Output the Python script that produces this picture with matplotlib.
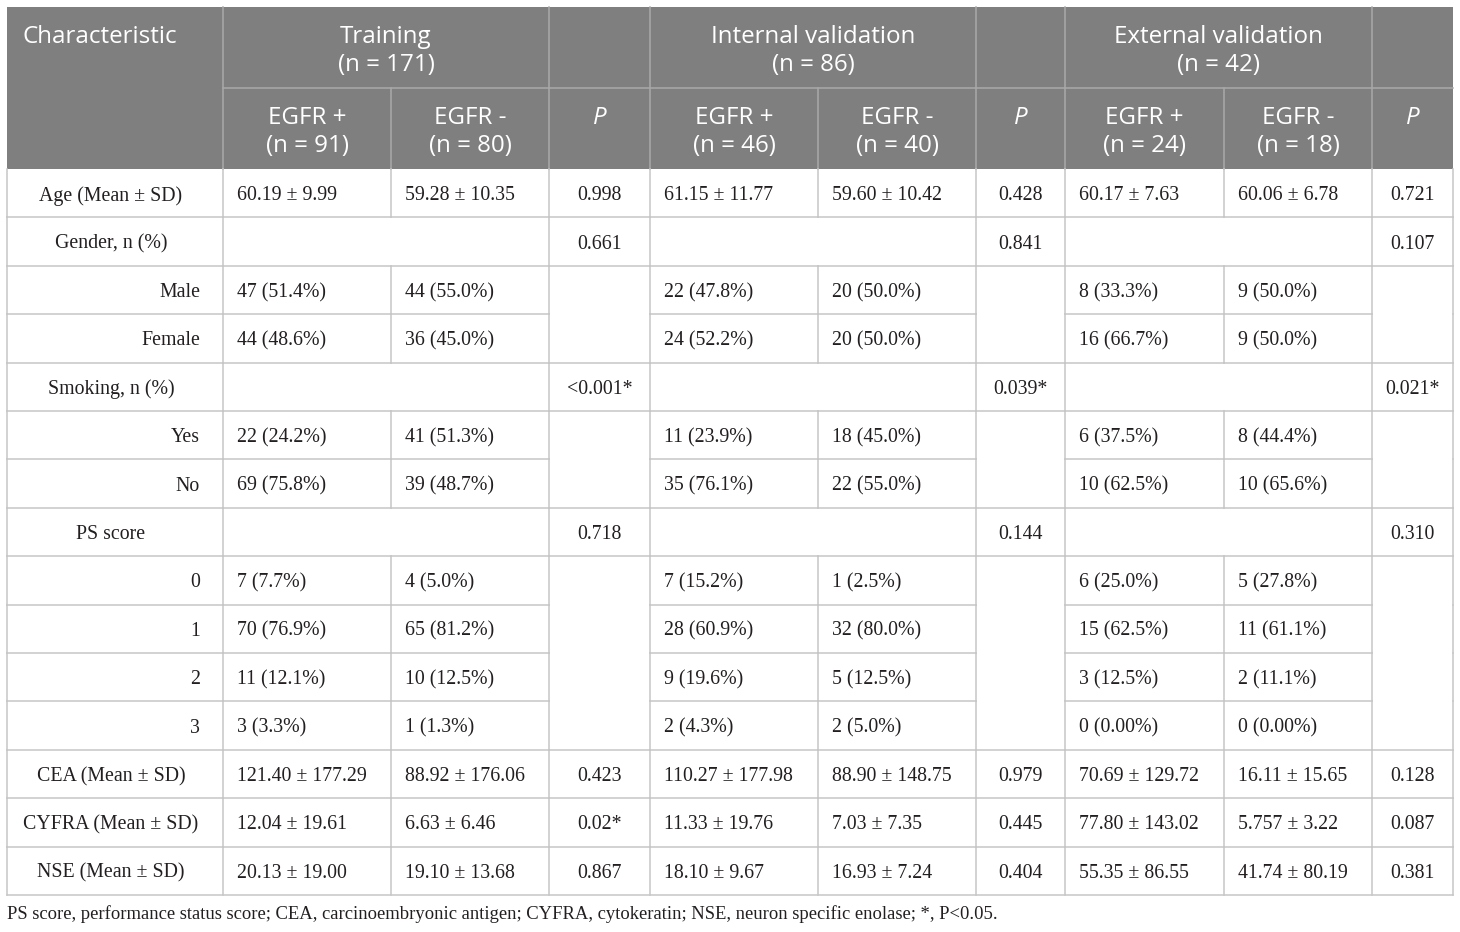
import matplotlib
matplotlib.use("Agg")
import matplotlib.pyplot as plt
from matplotlib.patches import Rectangle

# ---- table content ----
groups = ["Training\n(n = 171)", "Internal validation\n(n = 86)", "External validation\n(n = 42)"]
subheads = [["EGFR +\n(n = 91)", "EGFR -\n(n = 80)"],
            ["EGFR +\n(n = 46)", "EGFR -\n(n = 40)"],
            ["EGFR +\n(n = 24)", "EGFR -\n(n = 18)"]]

characteristics = ["Age (Mean ± SD)", "Gender, n (%)", "Male", "Female",
                   "Smoking, n (%)", "Yes", "No", "PS score", "0", "1", "2", "3",
                   "CEA (Mean ± SD)", "CYFRA (Mean ± SD)", "NSE (Mean ± SD)"]
row_kind = ["main", "head", "sub", "sub", "head", "sub", "sub", "head",
            "sub", "sub", "sub", "sub", "main", "main", "main"]

train_pos = ["60.19 ± 9.99", "", "47 (51.4%)", "44 (48.6%)", "", "22 (24.2%)", "69 (75.8%)", "",
             "7 (7.7%)", "70 (76.9%)", "11 (12.1%)", "3 (3.3%)",
             "121.40 ± 177.29", "12.04 ± 19.61", "20.13 ± 19.00"]
train_neg = ["59.28 ± 10.35", "", "44 (55.0%)", "36 (45.0%)", "", "41 (51.3%)", "39 (48.7%)", "",
             "4 (5.0%)", "65 (81.2%)", "10 (12.5%)", "1 (1.3%)",
             "88.92 ± 176.06", "6.63 ± 6.46", "19.10 ± 13.68"]
train_p = ["0.998", "0.661", "", "", "<0.001*", "", "", "0.718", "", "", "", "",
           "0.423", "0.02*", "0.867"]

int_pos = ["61.15 ± 11.77", "", "22 (47.8%)", "24 (52.2%)", "", "11 (23.9%)", "35 (76.1%)", "",
           "7 (15.2%)", "28 (60.9%)", "9 (19.6%)", "2 (4.3%)",
           "110.27 ± 177.98", "11.33 ± 19.76", "18.10 ± 9.67"]
int_neg = ["59.60 ± 10.42", "", "20 (50.0%)", "20 (50.0%)", "", "18 (45.0%)", "22 (55.0%)", "",
           "1 (2.5%)", "32 (80.0%)", "5 (12.5%)", "2 (5.0%)",
           "88.90 ± 148.75", "7.03 ± 7.35", "16.93 ± 7.24"]
int_p = ["0.428", "0.841", "", "", "0.039*", "", "", "0.144", "", "", "", "",
         "0.979", "0.445", "0.404"]

ext_pos = ["60.17 ± 7.63", "", "8 (33.3%)", "16 (66.7%)", "", "6 (37.5%)", "10 (62.5%)", "",
           "6 (25.0%)", "15 (62.5%)", "3 (12.5%)", "0 (0.00%)",
           "70.69 ± 129.72", "77.80 ± 143.02", "55.35 ± 86.55"]
ext_neg = ["60.06 ± 6.78", "", "9 (50.0%)", "9 (50.0%)", "", "8 (44.4%)", "10 (65.6%)", "",
           "5 (27.8%)", "11 (61.1%)", "2 (11.1%)", "0 (0.00%)",
           "16.11 ± 15.65", "5.757 ± 3.22", "41.74 ± 80.19"]
ext_p = ["0.721", "0.107", "", "", "0.021*", "", "", "0.310", "", "", "", "",
         "0.128", "0.087", "0.381"]

footnote = ("PS score, performance status score; CEA, carcinoembryonic antigen; "
            "CYFRA, cytokeratin; NSE, neuron specific enolase; *, P<0.05.")

columns = [train_pos, train_neg, train_p, int_pos, int_neg, int_p, ext_pos, ext_neg, ext_p]
p_cols = [2, 5, 8]

# ---- layout (pixel units) ----
W, H = 1460, 932
col_edges = [7, 223, 391, 549, 650, 818, 976, 1065, 1224, 1372, 1453]
head_top, head_mid, head_bot = 7, 88, 169
row_h = (895 - head_bot) / len(characteristics)

header_bg = "#7f7f7f"
header_line = "#a9a9a9"
grid_col = "#c6c6c6"
txt_col = "#231f20"
serif = "Liberation Serif"
sans = "Open Sans"

fig = plt.figure(figsize=(W / 100, H / 100), dpi=100)
ax = fig.add_axes([0, 0, 1, 1])
ax.set_xlim(0, W)
ax.set_ylim(H, 0)
ax.axis("off")
renderer = fig.canvas.get_renderer()


def fit_size(text, family, target_px, **kw):
    t = ax.text(0, 0, text, fontsize=10, family=family, **kw)
    w = t.get_window_extent(renderer).width
    t.remove()
    return 10 * target_px / w


body_fs = fit_size("121.40 ± 177.29", serif, 130)
head_fs = fit_size("Characteristic", sans, 146) * 1.06
foot_fs = fit_size(footnote, serif, 989)

# header block
ax.add_patch(Rectangle((col_edges[0], head_top), col_edges[-1] - col_edges[0],
                       head_bot - head_top, color=header_bg, lw=0))
lw = 1.1
ax.plot([col_edges[1], col_edges[-1]], [head_mid, head_mid], color=header_line, lw=lw)
inner = {2, 5, 8}
for i, x in enumerate(col_edges[1:-1], start=1):
    y0 = head_mid if i in inner else head_top
    ax.plot([x, x], [y0, head_bot], color=header_line, lw=lw)

line_gap = 28
first = 30
ax.text(22, head_top + first, "Characteristic", family=sans, fontsize=head_fs,
        color="white", ha="left", va="center")
for g in range(3):
    cx = (col_edges[1 + 3 * g] + col_edges[3 + 3 * g]) / 2
    for k, line in enumerate(groups[g].split("\n")):
        ax.text(cx, head_top + first + k * line_gap, line, family=sans, fontsize=head_fs,
                color="white", ha="center", va="center")
    for s in range(2):
        c = 1 + 3 * g + s
        cx = (col_edges[c] + col_edges[c + 1]) / 2
        for k, line in enumerate(subheads[g][s].split("\n")):
            ax.text(cx, head_mid + first + k * line_gap, line, family=sans, fontsize=head_fs,
                    color="white", ha="center", va="center")
    c = 3 + 3 * g
    cx = (col_edges[c] + col_edges[c + 1]) / 2
    ax.text(cx, head_mid + first, "P", family=sans, fontsize=head_fs, style="italic",
            color="white", ha="center", va="center")

# body grid
for r, kind in enumerate(row_kind):
    top = head_bot + r * row_h
    bot = top + row_h
    if r > 0:
        for c in range(len(col_edges) - 1):
            if c - 1 in p_cols and kind == "sub" and row_kind[r - 1] == "sub":
                continue
            ax.plot([col_edges[c], col_edges[c + 1]], [top, top], color=grid_col, lw=lw)
    for i, x in enumerate(col_edges):
        if kind == "head" and i in inner:
            continue
        ax.plot([x, x], [top, bot], color=grid_col, lw=lw)
body_bot = head_bot + len(row_kind) * row_h
ax.plot([col_edges[0], col_edges[-1]], [body_bot, body_bot], color=grid_col, lw=lw)

# body text
dy = 2.5
for r, label in enumerate(characteristics):
    cy = head_bot + (r + 0.5) * row_h + dy
    if row_kind[r] == "sub":
        ax.text(200, cy, label, family=serif, fontsize=body_fs, color=txt_col,
                ha="right", va="center")
    else:
        ax.text(111, cy, label, family=serif, fontsize=body_fs, color=txt_col,
                ha="center", va="center")
    for c, col in enumerate(columns):
        val = col[r]
        if not val:
            continue
        x0, x1 = col_edges[c + 1], col_edges[c + 2]
        if c in p_cols:
            ax.text((x0 + x1) / 2, cy, val, family=serif, fontsize=body_fs,
                    color=txt_col, ha="center", va="center")
        else:
            ax.text(x0 + 14, cy, val, family=serif, fontsize=body_fs,
                    color=txt_col, ha="left", va="center")

ax.text(7, 914, footnote, family=serif, fontsize=foot_fs, color=txt_col,
        ha="left", va="center")

fig.savefig("out.png", dpi=100, facecolor="white")
